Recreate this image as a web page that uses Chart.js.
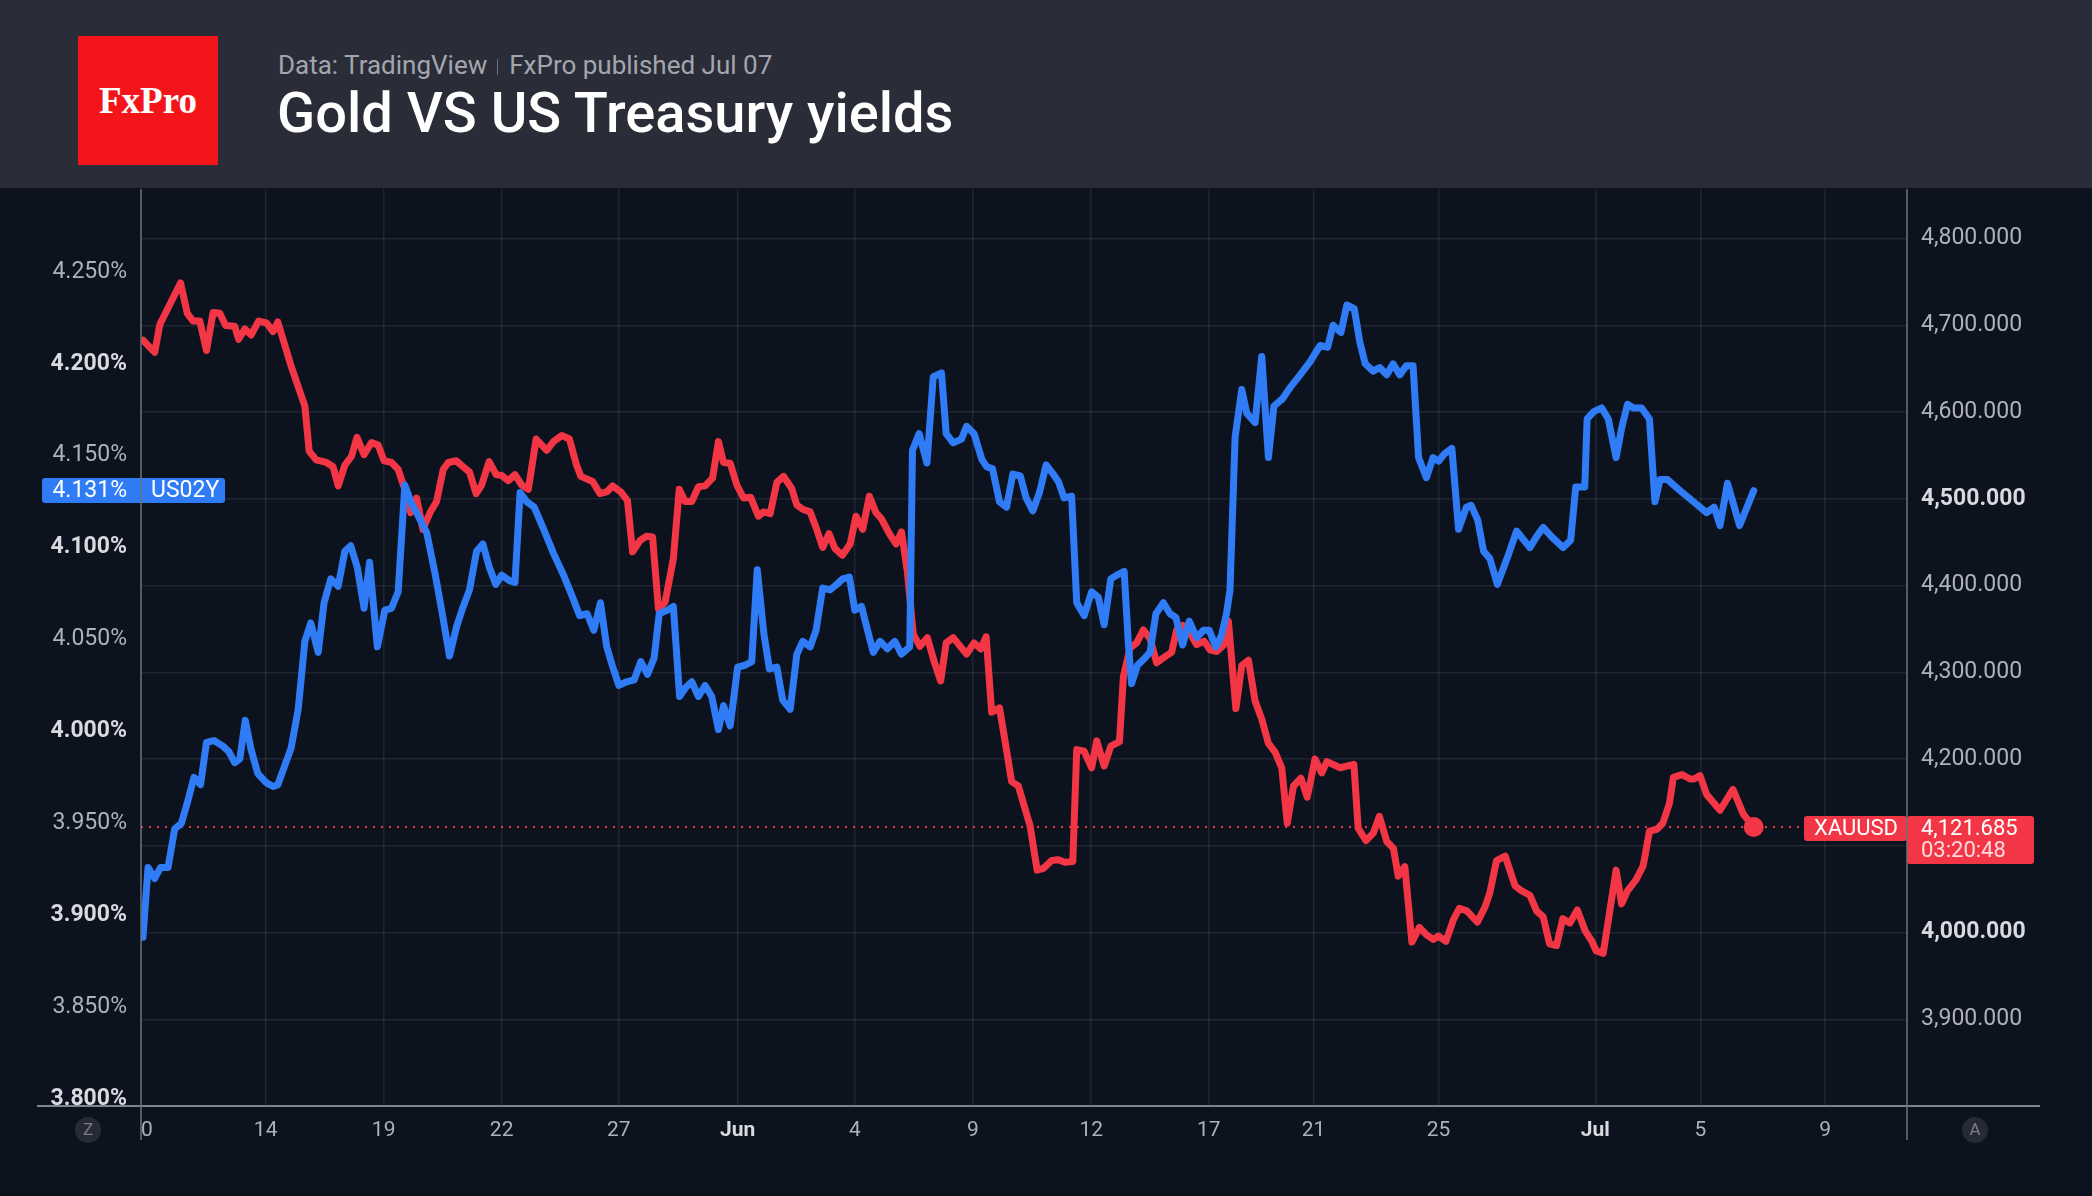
<!DOCTYPE html>
<html>
<head>
<meta charset="utf-8">
<script src="https://cdn.jsdelivr.net/npm/chart.js@4.4.1/dist/chart.umd.min.js"></script>
<style>
  html, body { margin: 0; padding: 0; }
  body { width: 2092px; height: 1196px; background: #0c121e; overflow: hidden; position: relative; font-family: Roboto, sans-serif; }
  #head { position: absolute; left: 0; top: 0; width: 2092px; height: 188px; background: #2a2d37; }
  #logo { position: absolute; left: 78px; top: 36px; width: 140px; height: 129px; background: #f31519;
          display: flex; align-items: center; justify-content: center;
          font-family: "Liberation Serif", serif; font-weight: bold; font-size: 37px; color: #fff; }
  #sub { position: absolute; left: 278px; top: 52px; font-size: 26px; line-height: 1; color: #a3a6af; white-space: nowrap; }
  #sub .sep { display: inline-block; width: 0; height: 16px; border-left: 1.5px solid #6d707a; margin: 0 11px 0 10px; vertical-align: -1px; }
  #title { position: absolute; left: 277px; top: 85px; font-size: 56px; line-height: 1; font-weight: 500; color: #fff; white-space: nowrap; }
  #wrap { position: absolute; left: 0; top: 188px; width: 2092px; height: 1008px; }
</style>
</head>
<body>
<div id="head">
  <div id="logo">FxPro</div>
  <div id="sub">Data: TradingView<span class="sep"></span>FxPro published Jul 07</div>
  <div id="title">Gold VS US Treasury yields</div>
</div>
<div id="wrap"><canvas id="chart" width="2092" height="1008"></canvas></div>
<script>
// x unit = trading sessions counted from the May 10 session
const xTickPos = [0.15, 3.18, 6.19, 9.20, 12.19, 15.22, 18.21, 21.22, 24.24, 27.24, 29.91, 33.10, 37.10, 39.78, 42.96];
const xTickLabels = ["0", "14", "19", "22", "27", "Jun", "4", "9", "12", "17", "21", "25", "Jul", "5", "9"];
const yieldTicks = [3.80, 3.85, 3.90, 3.95, 4.00, 4.05, 4.10, 4.15, 4.20, 4.25];
const goldTicks = [3900, 4000, 4100, 4200, 4300, 4400, 4500, 4600, 4700, 4800];

// XAUUSD
const goldX = [0.05, 0.35, 0.48, 1.01, 1.18, 1.33, 1.50, 1.67, 1.84, 2.01, 2.16, 2.39, 2.49, 2.65, 2.81, 3.00, 3.20, 3.37, 3.49, 3.83,
  4.18, 4.29, 4.47, 4.73, 4.90, 5.03, 5.20, 5.37, 5.51, 5.69, 5.88, 6.05, 6.20, 6.39, 6.56, 6.73, 6.88, 7.03, 7.19, 7.37,
  7.54, 7.71, 7.84, 8.04, 8.22, 8.38, 8.55, 8.69, 8.88, 9.06, 9.20, 9.37, 9.54, 9.71, 9.88, 10.08, 10.35, 10.52, 10.73, 10.93,
  11.11, 11.22, 11.52, 11.71, 11.88, 12.03, 12.24, 12.41, 12.54, 12.73, 12.90, 13.05, 13.20, 13.37, 13.58, 13.73, 13.88, 14.05, 14.22, 14.39,
  14.58, 14.73, 14.86, 15.03, 15.20, 15.37, 15.55, 15.75, 15.88, 16.05, 16.22, 16.39, 16.60, 16.73, 16.88, 17.07, 17.22, 17.39, 17.55, 17.70,
  17.89, 18.09, 18.24, 18.41, 18.58, 18.75, 18.89, 19.09, 19.26, 19.40, 19.55, 19.70, 19.87, 20.06, 20.23, 20.40, 20.54, 20.72, 21.06, 21.25,
  21.42, 21.56, 21.70, 21.90, 22.04, 22.21, 22.38, 22.68, 22.86, 23.02, 23.23, 23.40, 23.57, 23.77, 23.87, 24.06, 24.25, 24.38, 24.57, 24.74,
  24.96, 25.06, 25.23, 25.40, 25.57, 25.74, 25.91, 26.15, 26.29, 26.42, 26.57, 26.76, 26.93, 27.12, 27.27, 27.44, 27.61, 27.74, 27.93, 28.08,
  28.25, 28.42, 28.59, 28.76, 28.93, 29.10, 29.24, 29.40, 29.59, 29.75, 29.95, 30.12, 30.25, 30.59, 30.94, 31.05, 31.25, 31.44, 31.59, 31.78,
  31.95, 32.07, 32.24, 32.42, 32.61, 32.80, 32.97, 33.09, 33.29, 33.48, 33.63, 33.82, 34.09, 34.29, 34.41, 34.58, 34.80, 35.05, 35.22, 35.43,
  35.60, 35.77, 35.93, 36.11, 36.27, 36.45, 36.64, 36.84, 37.01, 37.12, 37.30, 37.63, 37.77, 37.92, 38.14, 38.32, 38.48, 38.67, 38.82, 38.99,
  39.09, 39.31, 39.52, 39.62, 39.77, 39.94, 40.28, 40.61, 40.88, 41.14];
const goldY = [4683, 4669, 4701, 4749, 4714, 4705, 4705, 4671, 4715, 4714, 4700, 4699, 4684, 4696, 4689, 4705, 4703, 4693, 4704, 4653,
  4607, 4555, 4545, 4542, 4537, 4515, 4539, 4549, 4571, 4551, 4565, 4562, 4544, 4542, 4534, 4511, 4484, 4501, 4465, 4484,
  4497, 4534, 4542, 4544, 4537, 4531, 4506, 4516, 4543, 4528, 4527, 4521, 4528, 4516, 4511, 4569, 4556, 4566, 4573, 4569,
  4539, 4526, 4520, 4506, 4508, 4515, 4508, 4498, 4439, 4452, 4457, 4456, 4373, 4381, 4431, 4511, 4497, 4497, 4514, 4515,
  4524, 4566, 4542, 4541, 4516, 4501, 4502, 4480, 4485, 4483, 4519, 4526, 4512, 4493, 4488, 4485, 4467, 4444, 4460, 4443,
  4435, 4448, 4480, 4465, 4503, 4484, 4477, 4460, 4448, 4462, 4416, 4344, 4330, 4340, 4313, 4290, 4334, 4340, 4321, 4334,
  4327, 4341, 4254, 4259, 4221, 4174, 4169, 4123, 4072, 4074, 4083, 4084, 4081, 4082, 4211, 4209, 4190, 4221, 4192, 4215,
  4220, 4295, 4328, 4334, 4349, 4339, 4311, 4319, 4323, 4349, 4354, 4345, 4332, 4336, 4326, 4324, 4331, 4359, 4258, 4308,
  4314, 4267, 4246, 4218, 4208, 4190, 4126, 4169, 4178, 4156, 4200, 4184, 4197, 4190, 4194, 4120, 4106, 4115, 4134, 4105,
  4097, 4065, 4076, 3989, 4006, 3997, 3992, 3996, 3990, 4015, 4028, 4025, 4012, 4030, 4046, 4083, 4088, 4054, 4048, 4043,
  4025, 4018, 3987, 3985, 4016, 4011, 4026, 4002, 3990, 3979, 3976, 4072, 4033, 4048, 4061, 4077, 4117, 4119, 4126, 4149,
  4179, 4182, 4177, 4177, 4181, 4159, 4141, 4165, 4136, 4121.685];

// US02Y
const yieldX = [0.05, 0.18, 0.35, 0.50, 0.69, 0.86, 1.03, 1.18, 1.35, 1.52, 1.67, 1.86, 2.09, 2.24, 2.39, 2.52, 2.66, 2.81, 2.98, 3.20,
  3.37, 3.49, 3.66, 3.83, 4.01, 4.18, 4.33, 4.52, 4.67, 4.84, 5.03, 5.20, 5.35, 5.52, 5.69, 5.83, 6.03, 6.22, 6.39, 6.56,
  6.73, 6.90, 7.03, 7.29, 7.50, 7.67, 7.87, 8.05, 8.22, 8.38, 8.56, 8.72, 8.89, 9.05, 9.20, 9.40, 9.54, 9.67, 9.84, 10.03,
  10.27, 10.52, 10.78, 10.99, 11.19, 11.38, 11.55, 11.72, 11.88, 12.02, 12.19, 12.39, 12.58, 12.75, 12.92, 13.09, 13.22, 13.43, 13.58, 13.74,
  13.90, 14.05, 14.22, 14.39, 14.56, 14.73, 14.86, 15.03, 15.22, 15.41, 15.58, 15.72, 15.89, 16.03, 16.22, 16.37, 16.56, 16.73, 16.88, 17.07,
  17.22, 17.39, 17.58, 17.75, 17.90, 18.07, 18.21, 18.38, 18.51, 18.68, 18.85, 19.04, 19.23, 19.40, 19.61, 19.68, 19.85, 20.05, 20.21, 20.42,
  20.54, 20.72, 20.93, 21.06, 21.25, 21.45, 21.57, 21.72, 21.90, 22.08, 22.24, 22.43, 22.58, 22.75, 22.92, 23.09, 23.27, 23.40, 23.55, 23.74,
  23.87, 24.06, 24.25, 24.42, 24.57, 24.74, 24.89, 25.08, 25.19, 25.27, 25.42, 25.61, 25.74, 25.89, 26.08, 26.25, 26.40, 26.57, 26.74, 26.93,
  27.10, 27.25, 27.42, 27.56, 27.69, 27.78, 27.91, 28.08, 28.21, 28.42, 28.59, 28.76, 28.90, 29.12, 29.31, 29.57, 29.82, 30.08, 30.27, 30.41,
  30.61, 30.76, 30.95, 31.09, 31.23, 31.43, 31.60, 31.78, 31.94, 32.11, 32.28, 32.45, 32.59, 32.79, 32.96, 33.10, 33.25, 33.44, 33.61, 33.81,
  33.93, 34.10, 34.25, 34.41, 34.60, 34.88, 35.09, 35.43, 35.60, 35.77, 35.98, 36.28, 36.47, 36.60, 36.83, 36.89, 37.06, 37.26, 37.43, 37.63,
  37.77, 37.92, 38.07, 38.28, 38.48, 38.62, 38.75, 38.94, 39.26, 39.60, 39.94, 40.13, 40.28, 40.47, 40.78, 41.14];
const yieldY = [3.888, 3.926, 3.920, 3.926, 3.926, 3.947, 3.950, 3.961, 3.975, 3.971, 3.994, 3.995, 3.992, 3.989, 3.983, 3.985, 4.006, 3.990, 3.977, 3.972,
  3.970, 3.971, 3.981, 3.991, 4.012, 4.049, 4.059, 4.043, 4.070, 4.083, 4.079, 4.098, 4.101, 4.089, 4.067, 4.092, 4.046, 4.066, 4.067, 4.076,
  4.134, 4.124, 4.119, 4.108, 4.086, 4.066, 4.041, 4.057, 4.068, 4.077, 4.098, 4.102, 4.089, 4.080, 4.085, 4.082, 4.081, 4.130, 4.125, 4.122,
  4.110, 4.097, 4.085, 4.074, 4.063, 4.064, 4.055, 4.070, 4.046, 4.036, 4.025, 4.027, 4.028, 4.038, 4.031, 4.040, 4.064, 4.066, 4.068, 4.019,
  4.024, 4.027, 4.019, 4.025, 4.019, 4.001, 4.014, 4.003, 4.035, 4.036, 4.038, 4.088, 4.053, 4.034, 4.035, 4.017, 4.012, 4.042, 4.049, 4.046,
  4.055, 4.078, 4.077, 4.080, 4.083, 4.084, 4.066, 4.068, 4.057, 4.043, 4.049, 4.045, 4.049, 4.042, 4.046, 4.153, 4.162, 4.146, 4.193, 4.195,
  4.162, 4.157, 4.159, 4.166, 4.162, 4.148, 4.144, 4.143, 4.125, 4.122, 4.140, 4.139, 4.127, 4.120, 4.130, 4.145, 4.140, 4.136, 4.127, 4.128,
  4.070, 4.063, 4.076, 4.073, 4.058, 4.083, 4.085, 4.087, 4.047, 4.026, 4.036, 4.040, 4.043, 4.064, 4.070, 4.064, 4.062, 4.047, 4.060, 4.051,
  4.055, 4.055, 4.046, 4.052, 4.064, 4.077, 4.160, 4.186, 4.173, 4.168, 4.204, 4.149, 4.177, 4.181, 4.187, 4.194, 4.201, 4.210, 4.209, 4.221,
  4.217, 4.232, 4.230, 4.212, 4.200, 4.196, 4.198, 4.194, 4.200, 4.194, 4.199, 4.199, 4.149, 4.138, 4.149, 4.147, 4.151, 4.154, 4.110, 4.122,
  4.123, 4.115, 4.098, 4.094, 4.080, 4.096, 4.109, 4.100, 4.106, 4.111, 4.106, 4.100, 4.104, 4.133, 4.133, 4.170, 4.174, 4.176, 4.170, 4.149,
  4.165, 4.178, 4.176, 4.176, 4.170, 4.125, 4.137, 4.137, 4.131, 4.125, 4.119, 4.122, 4.112, 4.135, 4.112, 4.131];

const RED = "#f23645";
const BLUE = "#2f7cf6";
const GRID = "rgba(255,255,255,0.085)";
const TXT = "#aeb1b9";
const TXT_B = "#d8dadf";

const lastGold = goldY[goldY.length - 1];
const lastYield = yieldY[yieldY.length - 1];

function fmtGold(v) {
  return v.toLocaleString("en-US", { minimumFractionDigits: 3, maximumFractionDigits: 3 });
}

function roundRect(ctx, x, y, w, h, r) {
  ctx.beginPath();
  ctx.roundRect(x, y, w, h, r);
  ctx.fill();
}

// bold labels: month names on x, round values on the y axes
const xBold = (c) => c.index !== undefined && isNaN(+xTickLabels[c.index]);
const yLBold = (c) => c.tick !== undefined && Math.round(c.tick.value * 100) % 10 === 0;
const yRBold = (c) => c.tick !== undefined && c.tick.value % 500 === 0;

const decor = {
  id: "decor",
  beforeDatasetsDraw(chart) {
    const { ctx, chartArea } = chart;
    const y = chart.scales.yR.getPixelForValue(lastGold);
    ctx.save();
    ctx.strokeStyle = RED;
    ctx.lineWidth = 2;
    ctx.setLineDash([2, 6]);
    ctx.beginPath();
    ctx.moveTo(chartArea.left, y);
    ctx.lineTo(chartArea.right - 103, y);
    ctx.stroke();
    ctx.restore();
  },
  afterDraw(chart) {
    const { ctx, chartArea } = chart;
    const L = chartArea.left, R = chartArea.right, B = chartArea.bottom, T = chartArea.top;
    ctx.save();
    // bottom axis line
    ctx.strokeStyle = "#80848d";
    ctx.lineWidth = 2;
    ctx.beginPath();
    ctx.moveTo(37, B);
    ctx.lineTo(2040, B);
    ctx.stroke();

    // US02Y label
    const yy = chart.scales.yL.getPixelForValue(lastYield);
    ctx.fillStyle = BLUE;
    roundRect(ctx, 42, yy - 12.5, 183, 25, 3);
    ctx.fillStyle = "#fff";
    ctx.font = "23px Roboto";
    ctx.textBaseline = "middle";
    ctx.textAlign = "right";
    ctx.fillText(lastYield.toFixed(3) + "%", L - 14, yy + 1);
    ctx.textAlign = "left";
    ctx.fillText("US02Y", L + 10, yy + 1);

    // XAUUSD label
    const gy = chart.scales.yR.getPixelForValue(lastGold);
    ctx.fillStyle = RED;
    roundRect(ctx, R - 103, gy - 11, 103, 25, 3);
    roundRect(ctx, R, gy - 11, 127, 48, 3);
    ctx.fillStyle = "#fff";
    ctx.font = "22px Roboto";
    ctx.textAlign = "center";
    ctx.fillText("XAUUSD", R - 51, gy + 2);
    ctx.textAlign = "left";
    ctx.fillText(fmtGold(lastGold), R + 14, gy + 2);
    ctx.fillStyle = "rgba(255,255,255,0.82)";
    ctx.fillText("03:20:48", R + 14, gy + 24);

    // vertical axis lines
    ctx.strokeStyle = "#6e727b";
    ctx.lineWidth = 1.5;
    ctx.beginPath();
    ctx.moveTo(L, T);
    ctx.lineTo(L, B + 34);
    ctx.moveTo(R, T);
    ctx.lineTo(R, B + 34);
    ctx.stroke();

    // Z / A buttons
    [[88, "Z"], [1975, "A"]].forEach(([cx, t]) => {
      ctx.fillStyle = "#262a34";
      ctx.beginPath();
      ctx.arc(cx, B + 24, 13, 0, Math.PI * 2);
      ctx.fill();
      ctx.fillStyle = "#7b7e88";
      ctx.font = "17px Roboto";
      ctx.textAlign = "center";
      ctx.textBaseline = "middle";
      ctx.fillText(t, cx, B + 25);
    });
    ctx.restore();
  }
};

// axis sizes are fixed so the plot sits exactly where the reference has it
const fixV = (w) => (s) => { s.width = w; s.paddingTop = 0; s.paddingBottom = 0; };

new Chart(document.getElementById("chart").getContext("2d"), {
  type: "line",
  data: {
    datasets: [
      {
        label: "US02Y",
        yAxisID: "yL",
        data: yieldX.map((x, i) => ({ x: x, y: yieldY[i] })),
        borderColor: BLUE,
        borderWidth: 7,
        borderJoinStyle: "round",
        borderCapStyle: "round",
        pointRadius: 0,
        tension: 0
      },
      {
        label: "XAUUSD",
        yAxisID: "yR",
        data: goldX.map((x, i) => ({ x: x, y: goldY[i] })),
        borderColor: RED,
        backgroundColor: RED,
        borderWidth: 7,
        borderJoinStyle: "round",
        borderCapStyle: "round",
        pointRadius: (c) => (c.dataIndex === goldY.length - 1 ? 10 : 0),
        pointBorderWidth: 0,
        pointHoverRadius: 0,
        tension: 0
      }
    ]
  },
  options: {
    responsive: false,
    animation: false,
    events: [],
    layout: { autoPadding: false, padding: { top: 1, left: 0, right: 0, bottom: 0 } },
    plugins: { legend: { display: false }, tooltip: { enabled: false } },
    scales: {
      x: {
        type: "linear",
        min: 0,
        max: 45.05,
        afterBuildTicks: (s) => { s.ticks = xTickPos.map((v) => ({ value: v })); },
        afterFit: (s) => { s.height = 90; s.paddingLeft = 0; s.paddingRight = 0; },
        grid: { color: (c) => (c.index === 0 ? "rgba(0,0,0,0)" : GRID), lineWidth: 1.5, drawTicks: false },
        border: { display: false },
        ticks: {
          autoSkip: false,
          maxRotation: 0,
          padding: 12,
          callback: (v, i) => xTickLabels[i],
          color: (c) => (xBold(c) ? TXT_B : TXT),
          font: (c) => ({ family: "Roboto", size: 21, weight: xBold(c) ? "bold" : "normal" })
        }
      },
      yL: {
        position: "left",
        min: 3.7962,
        max: 4.2951,
        afterBuildTicks: (s) => { s.ticks = yieldTicks.map((v) => ({ value: v })); },
        afterFit: fixV(141),
        grid: { display: false, drawTicks: false },
        border: { display: false },
        ticks: {
          padding: 14,
          callback: (v) => v.toFixed(3) + "%",
          color: (c) => (yLBold(c) ? TXT_B : TXT),
          font: (c) => ({ family: "Roboto", size: 23, weight: yLBold(c) ? "bold" : "normal" })
        }
      },
      yR: {
        position: "right",
        min: 3800,
        max: 4857.3,
        afterBuildTicks: (s) => { s.ticks = goldTicks.map((v) => ({ value: v })); },
        afterFit: fixV(185),
        grid: { color: GRID, lineWidth: 1.5, drawTicks: false },
        border: { display: false },
        ticks: {
          padding: 14,
          callback: (v) => fmtGold(v),
          color: (c) => (yRBold(c) ? TXT_B : TXT),
          font: (c) => ({ family: "Roboto", size: 23, weight: yRBold(c) ? "bold" : "normal" })
        }
      }
    }
  },
  plugins: [decor]
});
</script>
</body>
</html>
